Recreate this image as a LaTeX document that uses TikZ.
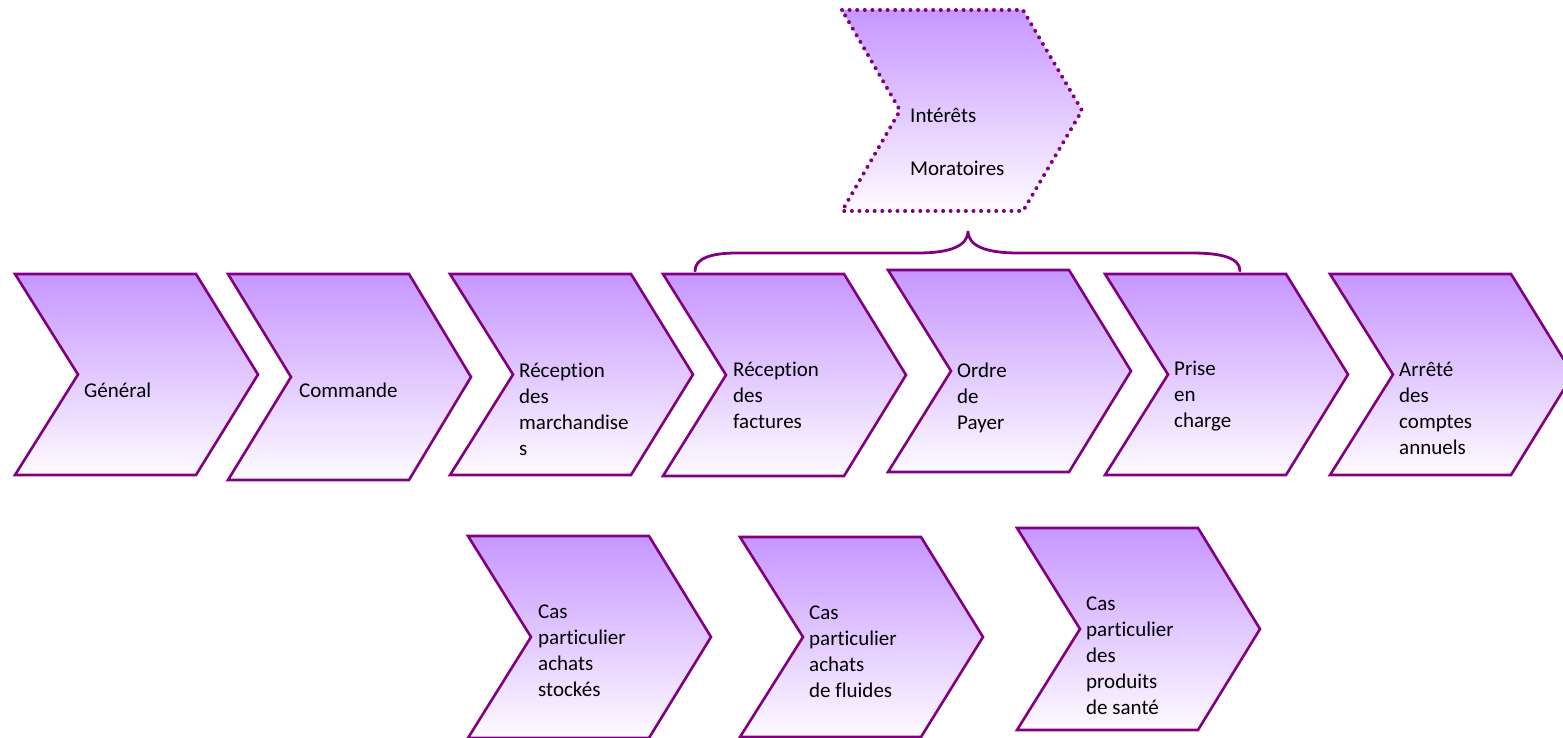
\documentclass[tikz,border=0pt]{standalone}
\usepackage{fontspec}
\setmainfont{Carlito}[Ligatures={NoCommon}]
\definecolor{outl}{RGB}{128,0,128}
\definecolor{lav}{RGB}{198,150,255}
\definecolor{fade}{RGB}{253,251,255}
\tikzset{
  chev/.style={draw=outl, line width=2.6pt, line join=miter, top color=lav, bottom color=fade},
  chevdot/.style={draw=outl, line width=4pt, dash pattern=on 0pt off 7.6pt, line cap=round, top color=lav, bottom color=fade},
  lbl/.style={anchor=west, align=left, inner sep=0pt, font=\fontsize{21}{26}\selectfont, text=black},
  bracestyle/.style={draw=outl, line width=2.8pt, line cap=round}
}
\newcommand\chevshape[4]{\path[#4] (#1,#2) -- (#1+181,#2) -- (#1+243,{(#2+#3)/2}) -- (#1+181,#3) -- (#1,#3) -- (#1+63,{(#2+#3)/2}) -- cycle;}
\begin{document}
\begin{tikzpicture}[x=1pt,y=-1pt]
\useasboundingbox (0,0) rectangle (1563,738);
% main row
\chevshape{15}{274}{475}{chev}
\chevshape{228}{274}{480}{chev}
\chevshape{450}{274}{475}{chev}
\chevshape{663}{274}{476}{chev}
\chevshape{888}{270}{472}{chev}
\chevshape{1105}{274}{475}{chev}
\chevshape{1330}{274}{475}{chev}
% top dotted
\path[chevdot] (842,10) -- (1023,10) -- (1082,110.5) -- (1023,211) -- (842,211) -- (900,110.5) -- cycle;
% bottom row
\chevshape{468}{536}{738}{chev}
\chevshape{740}{537}{737}{chev}
\chevshape{1017}{528}{730}{chev}
% labels
\node[lbl] (t1) at (84,390) {Général};
\node[lbl] (t2) at (299,390) {Commande};
\node[lbl] (t3) at (519,409) {Réception\\des\\marchandise\\s};
\node[lbl] (t4) at (733,395) {Réception\\des\\factures};
\node[lbl] (t5) at (957,397.5) {Ordre\\de\\Payer};
\node[lbl] (t6) at (1174,396) {Prise\\en\\charge};
\node[lbl] (t7) at (1399,408) {Arrêté\\des\\comptes\\annuels};
\node[lbl] (top) at (910,141.5) {Intérêts\\[27pt]Moratoires};
\node[lbl] (b1) at (538,651) {Cas\\particulier\\achats\\stockés};
\node[lbl] (b2) at (809,652) {Cas\\particulier\\achats\\de fluides};
\node[lbl] (b3) at (1086,656) {Cas\\particulier\\des\\produits\\de santé};
% brace
\coordinate (bl) at (695,271);
\coordinate (bm) at (968,231);
\coordinate (br) at (1240,271);
\draw[bracestyle] (bl) .. controls (695,258) and (712,253) .. (737,253) -- (918,253) .. controls (950,253) and (968,246) .. (bm)
  .. controls (968,246) and (986,253) .. (1018,253) -- (1192,253) .. controls (1222,253) and (1240,258) .. (br);
\end{tikzpicture}
\end{document}
